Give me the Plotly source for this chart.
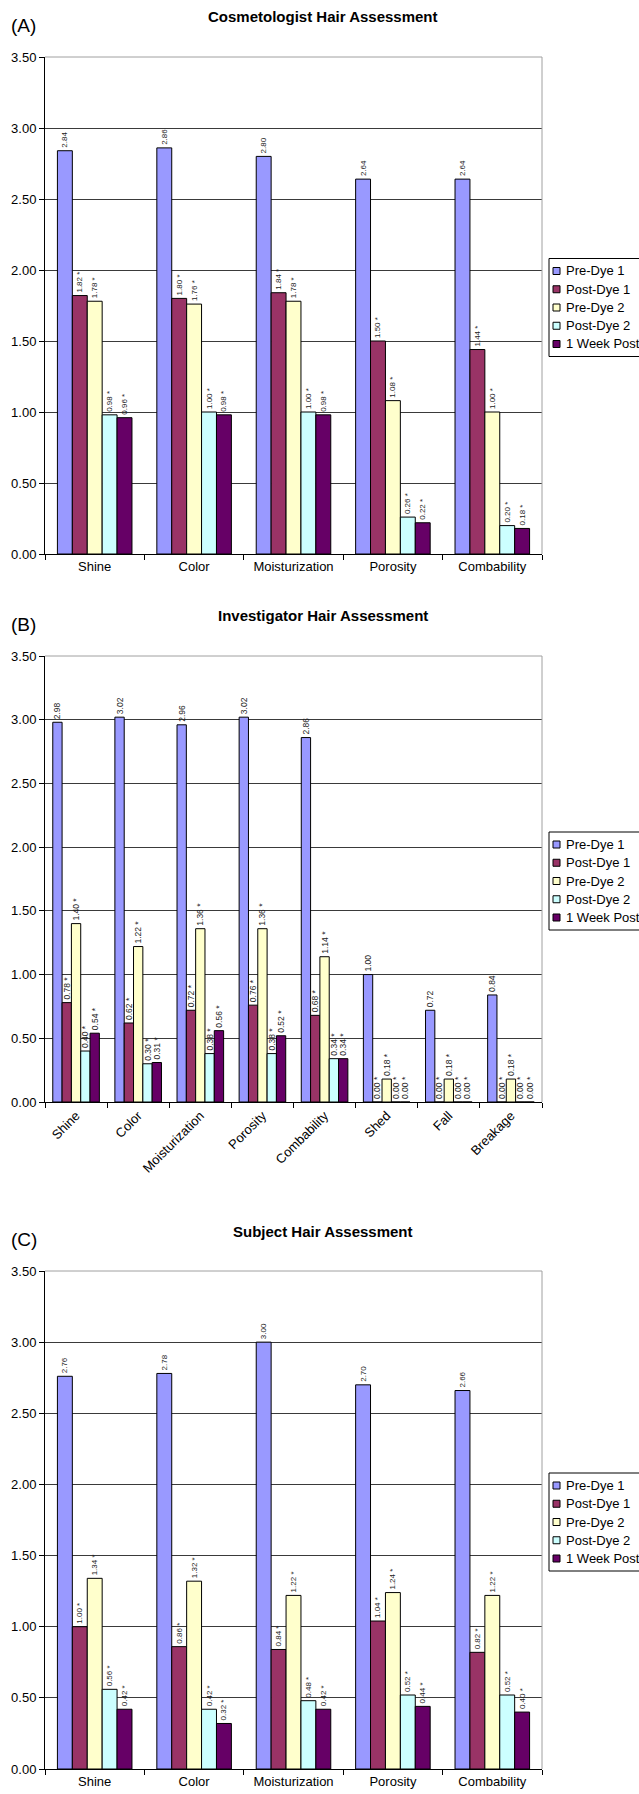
import plotly.graph_objects as go

W, H = 639, 1794
FONT = "Liberation Sans, Arial, sans-serif"

# ---- data -------------------------------------------------------------
series_names = ["Pre-Dye 1", "Post-Dye 1", "Pre-Dye 2", "Post-Dye 2", "1 Week Post"]
series_colors = ["#9999FF", "#993366", "#FFFFCC", "#CCFFFF", "#660066"]
series_starred = [False, True, True, True, True]

cosmo_categories = ["Shine", "Color", "Moisturization", "Porosity", "Combability"]
cosmo_pre_dye_1 = [2.84, 2.86, 2.80, 2.64, 2.64]
cosmo_post_dye_1 = [1.82, 1.80, 1.84, 1.50, 1.44]
cosmo_pre_dye_2 = [1.78, 1.76, 1.78, 1.08, 1.00]
cosmo_post_dye_2 = [0.98, 1.00, 1.00, 0.26, 0.20]
cosmo_week_post = [0.96, 0.98, 0.98, 0.22, 0.18]

invest_categories = ["Shine", "Color", "Moisturization", "Porosity", "Combability",
                     "Shed", "Fall", "Breakage"]
invest_pre_dye_1 = [2.98, 3.02, 2.96, 3.02, 2.86, 1.00, 0.72, 0.84]
invest_post_dye_1 = [0.78, 0.62, 0.72, 0.76, 0.68, 0.00, 0.00, 0.00]
invest_pre_dye_2 = [1.40, 1.22, 1.36, 1.36, 1.14, 0.18, 0.18, 0.18]
invest_post_dye_2 = [0.40, 0.30, 0.38, 0.38, 0.34, 0.00, 0.00, 0.00]
invest_week_post = [0.54, 0.31, 0.56, 0.52, 0.34, 0.00, 0.00, 0.00]

subj_categories = ["Shine", "Color", "Moisturization", "Porosity", "Combability"]
subj_pre_dye_1 = [2.76, 2.78, 3.00, 2.70, 2.66]
subj_post_dye_1 = [1.00, 0.86, 0.84, 1.04, 0.82]
subj_pre_dye_2 = [1.34, 1.32, 1.22, 1.24, 1.22]
subj_post_dye_2 = [0.56, 0.42, 0.48, 0.52, 0.52]
subj_week_post = [0.42, 0.32, 0.42, 0.44, 0.40]

y_ticks = [0, 0.5, 1.0, 1.5, 2.0, 2.5, 3.0, 3.5]

# ---- panel layout (pixel positions on the page) -----------------------
panels = [
    dict(letter="(A)", title="Cosmetologist Hair Assessment",
         cats=cosmo_categories,
         series=[cosmo_pre_dye_1, cosmo_post_dye_1, cosmo_pre_dye_2,
                 cosmo_post_dye_2, cosmo_week_post],
         top=57, bottom=554, label_size=8, tickangle=0),
    dict(letter="(B)", title="Investigator Hair Assessment",
         cats=invest_categories,
         series=[invest_pre_dye_1, invest_post_dye_1, invest_pre_dye_2,
                 invest_post_dye_2, invest_week_post],
         top=656, bottom=1102, label_size=8.5, tickangle=-45),
    dict(letter="(C)", title="Subject Hair Assessment",
         cats=subj_categories,
         series=[subj_pre_dye_1, subj_post_dye_1, subj_pre_dye_2,
                 subj_post_dye_2, subj_week_post],
         top=1271, bottom=1769, label_size=8, tickangle=0),
]

PLOT_LEFT, PLOT_RIGHT = 45, 542


def px_x(x):
    return x / W


def px_y(y):
    return 1 - y / H


fig = go.Figure()
shapes, annotations = [], []

for i, p in enumerate(panels):
    sfx = "" if i == 0 else str(i + 1)
    xa, ya = "x" + sfx, "y" + sfx

    for name, color, starred, vals in zip(series_names, series_colors,
                                          series_starred, p["series"]):
        labels = [f"{v:.2f}" + (" *" if starred else "") for v in vals]
        fig.add_trace(go.Bar(
            x=p["cats"], y=vals, name=name, xaxis=xa, yaxis=ya,
            marker=dict(color=color, line=dict(color="#000000", width=1)),
            text=labels, textposition="outside", textangle=-90,
            textfont=dict(family=FONT, size=p["label_size"], color="#222222"),
            constraintext="none", cliponaxis=False, showlegend=False,
            hoverinfo="skip",
        ))

    fig.layout["xaxis" + sfx] = dict(
        domain=[px_x(PLOT_LEFT), px_x(PLOT_RIGHT)], anchor=ya,
        showline=True, linecolor="#000000", linewidth=1,
        ticks="outside", tickson="boundaries", ticklen=5, tickcolor="#000000",
        tickangle=p["tickangle"], showgrid=False,
        tickfont=dict(family=FONT, size=13, color="#000000"),
        fixedrange=True,
    )
    fig.layout["yaxis" + sfx] = dict(
        domain=[px_y(p["bottom"]), px_y(p["top"])], anchor=xa,
        range=[0, 3.5], tickvals=y_ticks, tickformat=".2f",
        showline=True, linecolor="#000000", linewidth=1,
        ticks="outside", ticklen=5, tickcolor="#000000",
        showgrid=True, gridcolor="#3a3a3a", gridwidth=1, zeroline=False,
        tickfont=dict(family=FONT, size=13, color="#000000"),
        fixedrange=True,
    )

    # grey frame on the top and right of the plot area
    shapes.append(dict(type="line", xref=xa + " domain", yref=ya + " domain",
                       x0=0, x1=1, y0=1, y1=1, layer="above",
                       line=dict(color="#a0a0a0", width=1)))
    shapes.append(dict(type="line", xref=xa + " domain", yref=ya + " domain",
                       x0=1, x1=1, y0=0, y1=1, layer="above",
                       line=dict(color="#a0a0a0", width=1)))

    # chart title and panel letter
    annotations.append(dict(text=f"<b>{p['title']}</b>", xref="paper", yref="paper",
                            x=px_x(323), y=px_y(p["top"] - 40), showarrow=False,
                            xanchor="center", yanchor="middle",
                            font=dict(family=FONT, size=15, color="#000000")))
    annotations.append(dict(text=p["letter"], xref="paper", yref="paper",
                            x=px_x(9), y=px_y(p["top"] - 32), showarrow=False,
                            xanchor="left", yanchor="middle",
                            font=dict(family=FONT, size=19, color="#000000")))

    # legend box at the right of each chart
    cy = (p["top"] + p["bottom"]) / 2 + 2
    step = 18.25
    shapes.append(dict(type="rect", xref="paper", yref="paper",
                       x0=px_x(549), x1=px_x(660), y0=px_y(cy + 49), y1=px_y(cy - 49),
                       fillcolor="#ffffff", line=dict(color="#000000", width=1),
                       layer="above"))
    for k, (name, color) in enumerate(zip(series_names, series_colors)):
        iy = cy + (k - 2) * step
        shapes.append(dict(type="rect", xref="paper", yref="paper",
                           x0=px_x(553), x1=px_x(560), y0=px_y(iy + 3.5), y1=px_y(iy - 3.5),
                           fillcolor=color, line=dict(color="#000000", width=1),
                           layer="above"))
        annotations.append(dict(text=name, xref="paper", yref="paper",
                                x=px_x(564), y=px_y(iy), showarrow=False,
                                xanchor="left", yanchor="middle",
                                font=dict(family=FONT, size=13, color="#000000")))

fig.update_layout(
    width=W, height=H,
    margin=dict(l=0, r=0, t=0, b=0, autoexpand=False),
    paper_bgcolor="#ffffff", plot_bgcolor="#ffffff",
    barmode="group", bargap=0.25, bargroupgap=0,
    showlegend=False,
    shapes=shapes, annotations=annotations,
)

fig.write_html("out.html")
